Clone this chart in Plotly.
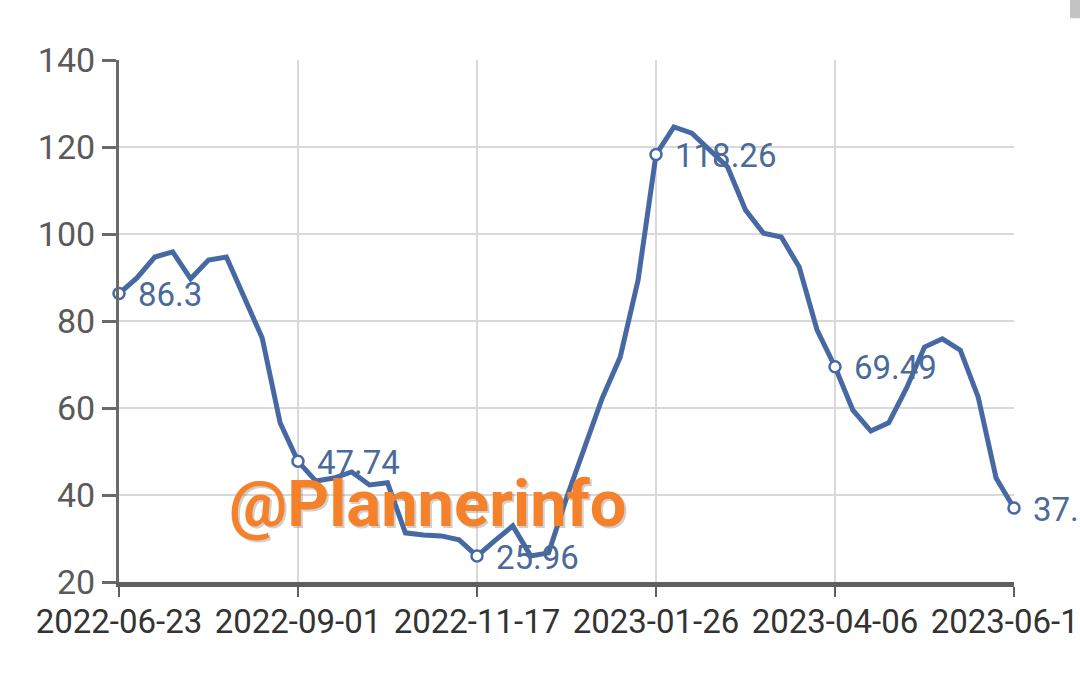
import plotly.graph_objects as go

dates = [
    "2022-06-23", "2022-06-30", "2022-07-07", "2022-07-14", "2022-07-21", "2022-07-28",
    "2022-08-04", "2022-08-11", "2022-08-18", "2022-08-25", "2022-09-01", "2022-09-08",
    "2022-09-15", "2022-09-22", "2022-09-29", "2022-10-13", "2022-10-20", "2022-10-27",
    "2022-11-03", "2022-11-10", "2022-11-17", "2022-11-24", "2022-12-01", "2022-12-08",
    "2022-12-15", "2022-12-22", "2022-12-29", "2023-01-05", "2023-01-12", "2023-01-19",
    "2023-01-26", "2023-02-02", "2023-02-09", "2023-02-16", "2023-02-23", "2023-03-02",
    "2023-03-09", "2023-03-16", "2023-03-23", "2023-03-30", "2023-04-06", "2023-04-13",
    "2023-04-20", "2023-04-27", "2023-05-04", "2023-05-11", "2023-05-18", "2023-05-25",
    "2023-06-01", "2023-06-08", "2023-06-15",
]
values = [
    86.3, 89.9, 94.7, 95.9, 89.7, 94.0, 94.7, 85.5, 76.1, 56.6,
    47.74, 43.2, 43.9, 45.3, 42.3, 42.8, 31.3, 30.8, 30.6, 29.7,
    25.96, 29.5, 32.9, 26.0, 26.7, 39.3, 50.8, 62.3, 71.7, 89.4,
    118.26, 124.6, 123.2, 119.3, 115.4, 105.5, 100.2, 99.3, 92.4, 77.9,
    69.49, 59.5, 54.7, 56.6, 64.6, 74.0, 75.9, 73.3, 62.5, 43.9,
    37.0,
]
label_idx = [0, 10, 20, 30, 40, 50]
label_text = ["86.3", "47.74", "25.96", "118.26", "69.49", "37.0"]
tick_labels = ["2022-06-23", "2022-09-01", "2022-11-17", "2023-01-26", "2023-04-06", "2023-06-15"]
y_ticks = [20, 40, 60, 80, 100, 120, 140]

LINE = "#4769a3"
FONT = "Roboto"

fig = go.Figure()
fig.add_trace(go.Scatter(
    x=dates, y=values, mode="lines",
    line=dict(color=LINE, width=5), hoverinfo="skip", showlegend=False,
))
fig.add_trace(go.Scatter(
    x=[dates[i] for i in label_idx], y=[values[i] for i in label_idx],
    mode="markers",
    marker=dict(size=11, color="white", line=dict(color=LINE, width=2.5)),
    cliponaxis=False, showlegend=False,
))

for i, t in zip(label_idx, label_text):
    fig.add_annotation(
        x=dates[i], y=values[i], text=t, showarrow=False,
        xanchor="left", yanchor="middle", xshift=17, yshift=-1,
        font=dict(family=FONT, size=33, color="#4a6a9a"),
    )

# watermark
fig.add_annotation(
    x=0.345, y=0.15, xref="paper", yref="paper", text="<b>@Plannerinfo</b>",
    showarrow=False, xanchor="center", yanchor="middle", xshift=2, yshift=-2,
    font=dict(family=FONT, size=65, color="rgba(120,120,120,0.35)"),
)
fig.add_annotation(
    x=0.345, y=0.15, xref="paper", yref="paper", text="<b>@Plannerinfo</b>",
    showarrow=False, xanchor="center", yanchor="middle",
    font=dict(family=FONT, size=65, color="#f5822b"),
)

# small gray corner mark
fig.add_shape(type="rect", xref="paper", yref="paper",
              x0=1.0626, x1=1.08, y0=1.08, y1=1.2,
              fillcolor="#c4c4c4", line=dict(width=0), layer="above")

fig.update_xaxes(
    type="category", range=[0, len(dates) - 1], automargin=False,
    tickmode="array", tickvals=[dates[i] for i in label_idx], ticktext=tick_labels,
    showgrid=True, gridcolor="#d9d9d9", gridwidth=2,
    showline=True, linecolor="#5f5f5f", linewidth=5,
    ticks="outside", ticklen=10, tickwidth=2, tickcolor="#5f5f5f",
    ticklabelstandoff=-4,
    tickfont=dict(family=FONT, size=33, color="#333333"),
    zeroline=False, fixedrange=True,
)
fig.update_yaxes(
    range=[20, 140], tickmode="array", tickvals=y_ticks, automargin=False,
    showgrid=True, gridcolor="#d9d9d9", gridwidth=2,
    showline=True, linecolor="#6a6a6a", linewidth=3,
    ticks="outside", ticklen=14, tickwidth=2.5, tickcolor="#6a6a6a",
    tickfont=dict(family=FONT, size=34, color="#5a5a5a"),
    zeroline=False, fixedrange=True,
)
fig.update_layout(
    width=1080, height=674,
    margin=dict(l=119, r=66, t=60, b=92),
    paper_bgcolor="white", plot_bgcolor="white",
    showlegend=False,
)
fig.write_html("out.html", config={"displayModeBar": False},
               post_script="document.body.style.margin='0';")
